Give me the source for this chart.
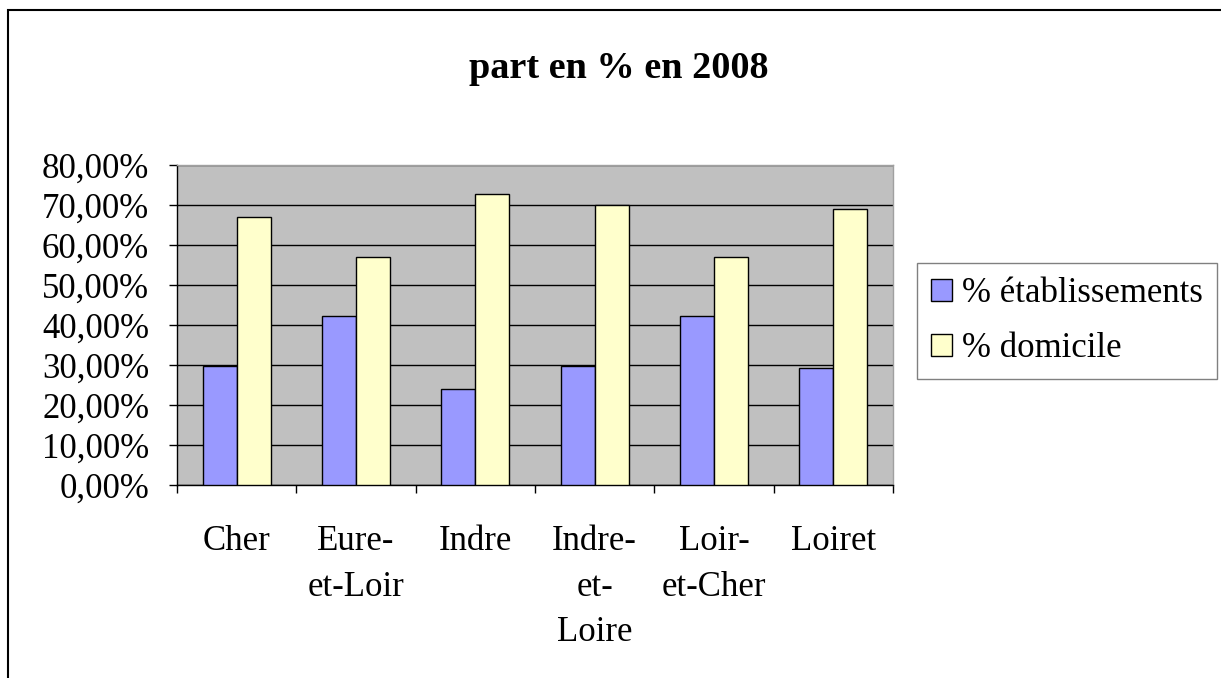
import pandas as pd, numpy as np, matplotlib
matplotlib.use("Agg")
import matplotlib.pyplot as plt, seaborn as sns
from matplotlib.ticker import FuncFormatter
from matplotlib.patches import Rectangle

# Données (en %)
departements = ["Cher", "Eure-\net-Loir", "Indre", "Indre-\net-\nLoire", "Loir-\net-Cher", "Loiret"]
etablissements = [29.7, 42.3, 23.9, 29.7, 42.3, 29.3]
domicile = [66.9, 57.0, 72.8, 70.1, 57.0, 68.9]
series = ["% établissements", "% domicile"]
couleurs = ["#9999FF", "#FFFFCC"]

df = pd.DataFrame({
    "dep": departements * 2,
    "part": etablissements + domicile,
    "serie": [series[0]] * len(departements) + [series[1]] * len(departements),
})

plt.rcParams['font.family'] = ['Liberation Serif', 'DejaVu Serif']

fig = plt.figure(figsize=(12.21, 6.78), dpi=100)
ax = fig.add_axes([177/1221, 1 - 485/678, (893-177)/1221, (485-165)/678])
ax.set_facecolor("#C0C0C0")

sns.barplot(data=df, x="dep", y="part", hue="serie", palette=couleurs, saturation=1,
            width=0.57, edgecolor="black", linewidth=1, ax=ax, zorder=3)

ax.set_ylim(0, 80)
ax.set_xlim(-0.5, len(departements) - 0.5)
ax.set_yticks(np.arange(0, 81, 10))
ax.yaxis.set_major_formatter(FuncFormatter(lambda v, p: f"{v:.2f}%".replace(".", ",")))
ax.grid(axis="y", color="black", linewidth=1, zorder=1)
ax.set_axisbelow(True)
ax.set_xlabel("")
ax.set_ylabel("")

# ticks de l'axe x entre les catégories
ax.set_xticks(np.arange(len(departements)))
ax.set_xticklabels(departements, linespacing=1.5)
ax.set_xticks(np.arange(-0.5, len(departements), 1), minor=True)
ax.tick_params(axis="x", which="major", length=0, pad=29, labelsize=25)
ax.tick_params(axis="x", which="minor", length=6, width=1, color="black", direction="out")
ax.tick_params(axis="y", length=6, width=1, color="black", pad=14, labelsize=25)

for s in ["left", "bottom"]:
    ax.spines[s].set_color("black")
    ax.spines[s].set_linewidth(1)
for s in ["top", "right"]:
    ax.spines[s].set_color("#A0A0A0")
    ax.spines[s].set_linewidth(1)

ax.legend(loc="upper left", bbox_to_anchor=(917/1221, 1 - 263/678),
          bbox_transform=fig.transFigure, frameon=True, fancybox=False,
          edgecolor="#606060", fontsize=25, handlelength=0.6, handleheight=0.6,
          handletextpad=0.3, labelspacing=0.65, borderpad=0.4, borderaxespad=0)
ax.get_legend().get_frame().set_linewidth(1)

fig.text(619/1221, 1 - 68/678, "part en % en 2008", ha="center", va="center",
         fontsize=27.5, fontweight="bold")

# cadre du graphique
fig.patches.append(Rectangle((8/1221, -0.1), 1.2, 1.1 - 10/678, fill=False,
                             edgecolor="black", linewidth=1.5, transform=fig.transFigure))

plt.savefig("out.png", dpi=100)
